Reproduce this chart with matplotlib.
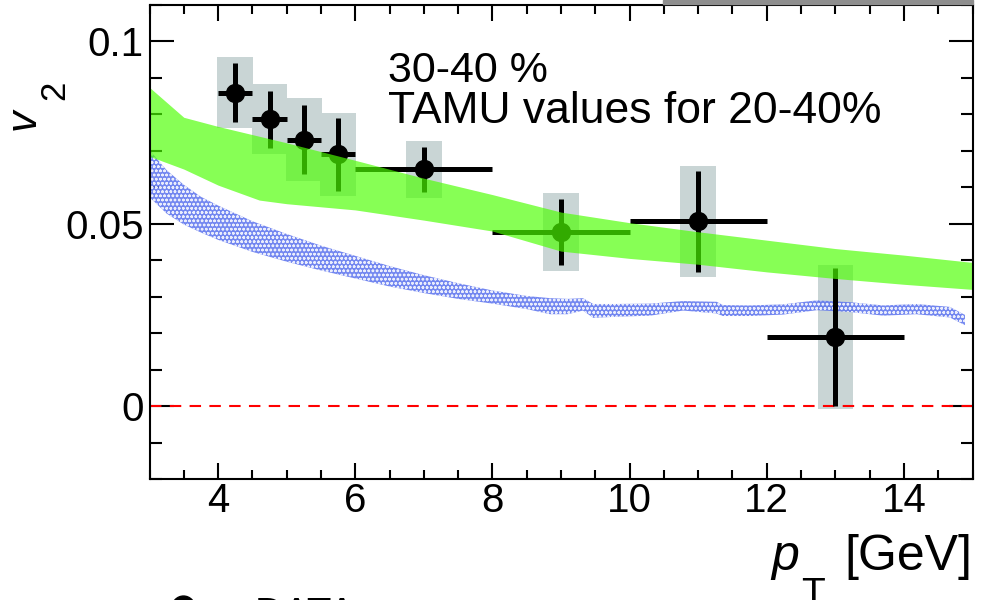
import numpy as np
import matplotlib
matplotlib.use('Agg')
import matplotlib.pyplot as plt
from matplotlib.lines import Line2D
from matplotlib.patches import Rectangle

plt.rcParams['font.family'] = ['Liberation Sans', 'DejaVu Sans']
plt.rcParams['hatch.linewidth'] = 0.7

# v2 measurement, 30-40% centrality
pt_x = [4.25, 4.75, 5.25, 5.75, 7.0, 9.0, 11.0, 13.0]
pt_xerr = [0.25, 0.25, 0.25, 0.25, 1.0, 1.0, 1.0, 1.0]
pt_y = [0.0860, 0.0786, 0.0731, 0.0690, 0.0649, 0.0477, 0.0507, 0.0189]
pt_stat = [0.0080, 0.0077, 0.0095, 0.0101, 0.0062, 0.0091, 0.0138, 0.0189]
pt_sys = [0.0098, 0.0096, 0.0113, 0.0114, 0.0077, 0.0107, 0.0152, 0.0197]

# TAMU model band (20-40%)
tamu_x = [3.0, 3.5, 4.0, 4.6, 5.0, 6.0, 7.0, 8.0, 9.0, 10.0, 11.0, 12.0, 13.0, 14.0, 15.0]
tamu_hi = [0.0874, 0.0792, 0.0767, 0.0740, 0.0722, 0.0674, 0.0625, 0.0580, 0.0532,
           0.0503, 0.0478, 0.0455, 0.0432, 0.0414, 0.0394]
tamu_lo = [0.0685, 0.0650, 0.0606, 0.0565, 0.0555, 0.0538, 0.0510, 0.0480, 0.0425,
           0.0405, 0.0389, 0.0368, 0.0350, 0.0334, 0.0320]

# second model band (hatched)
mod_x = [3.0, 3.25, 3.5, 3.75, 4.0, 4.5, 5.0, 5.5, 6.0, 6.5, 7.0, 7.5, 8.0, 8.5, 8.84,
         9.1, 9.32, 9.47, 9.81, 10.3, 10.78, 11.27, 11.36, 11.75, 12.24, 12.73, 13.21,
         13.7, 14.18, 14.67, 14.89]
mod_hi = [0.0702, 0.0647, 0.0607, 0.0574, 0.0550, 0.0507, 0.0472, 0.0440, 0.0412, 0.0384,
          0.0359, 0.0337, 0.0317, 0.0302, 0.0296, 0.0294, 0.0296, 0.0280, 0.0280, 0.0281,
          0.0288, 0.0286, 0.0277, 0.0276, 0.0279, 0.0290, 0.0285, 0.0276, 0.0280, 0.0272,
          0.0250]
mod_lo = [0.0573, 0.0528, 0.0498, 0.0476, 0.0456, 0.0423, 0.0396, 0.0372, 0.0350, 0.0328,
          0.0310, 0.0294, 0.0281, 0.0266, 0.0252, 0.0252, 0.0262, 0.0242, 0.0245, 0.0248,
          0.0262, 0.0254, 0.0247, 0.0247, 0.0251, 0.0263, 0.0258, 0.0248, 0.0252, 0.0243,
          0.0222]

W, H = 983, 600


def px(x, y):
    # pixel position (from top-left) -> figure fraction
    return x / W, 1 - y / H


fig = plt.figure(figsize=(W / 100, H / 100), dpi=100)
ax = fig.add_axes([149.5 / W, 121 / H, 823 / W, 474 / H])
ax.set_xlim(3, 15)
ax.set_ylim(-0.02, 0.11)

# systematic boxes
y = np.array(pt_y)
sys_ = np.array(pt_sys)
ax.bar(pt_x, 2 * sys_, bottom=y - sys_, width=0.52, color='#c9d5d5', linewidth=0, zorder=1)

ax.axhline(0, color='#ff0000', lw=1.5, ls=(0, (5.5, 4)), zorder=2)

ax.fill_between(mod_x, mod_lo, mod_hi, facecolor='#5b72ee', edgecolor='white',
                hatch='oooo', linewidth=0, alpha=0.85, zorder=2.5)

ax.errorbar(pt_x, pt_y, xerr=pt_xerr, yerr=pt_stat, fmt='o', color='black', ms=13,
            elinewidth=3.6, capsize=0, zorder=3)

ax.fill_between(tamu_x, tamu_lo, tamu_hi, color='#4cff01', alpha=0.67, linewidth=0, zorder=4)

# axes styling
ax.set_xticks([4, 6, 8, 10, 12, 14])
ax.set_xticks(np.arange(3, 15.01, 0.5), minor=True)
ax.set_yticks([0, 0.05, 0.1])
ax.set_yticklabels(['0', '0.05', '0.1'])
ax.set_yticks(np.arange(-0.02, 0.1101, 0.01), minor=True)
ax.tick_params(which='both', direction='in', top=True, right=True, width=1.5, labelsize=29)
ax.tick_params(axis='y', which='major', length=17.3, pad=4)
ax.tick_params(axis='y', which='minor', length=8.6)
ax.tick_params(axis='x', which='major', length=11.5, pad=2)
ax.tick_params(axis='x', which='minor', length=6.5)
ax.set_axisbelow(True)
for s in ax.spines.values():
    s.set_linewidth(1.5)
    s.set_zorder(10)

ax.text(0.2898, 0.8376, '30-40 %', transform=ax.transAxes, fontsize=31, va='baseline')
ax.text(0.2898, 0.751, 'TAMU values for 20-40%', transform=ax.transAxes, fontsize=32,
        va='baseline')

# axis titles
fig.text(*px(35, 130), 'v', rotation=90, rotation_mode='anchor', ha='left', va='baseline',
         fontsize=31, style='italic')
fig.text(*px(64, 100), '2', rotation=90, rotation_mode='anchor', ha='left', va='baseline',
         fontsize=25)
fig.text(*px(771, 570), 'p', style='italic', fontsize=36, ha='left', va='baseline')
fig.text(*px(801, 605), 'T', fontsize=28, ha='left', va='baseline')
fig.text(*px(972, 570), '[GeV]', fontsize=36, ha='right', va='baseline')

# legend pieces at the edges
fig.add_artist(Rectangle(px(663, 4), 310 / W, 4 / H, transform=fig.transFigure,
                         color='#8e8e8e'))
fig.add_artist(Line2D([183 / W], [1 - 607 / H], marker='o', ms=16.5, color='black',
                      transform=fig.transFigure))
fig.text(*px(255, 626), 'DATA', fontsize=29, ha='left', va='baseline')

fig.savefig('out.png', dpi=100)
